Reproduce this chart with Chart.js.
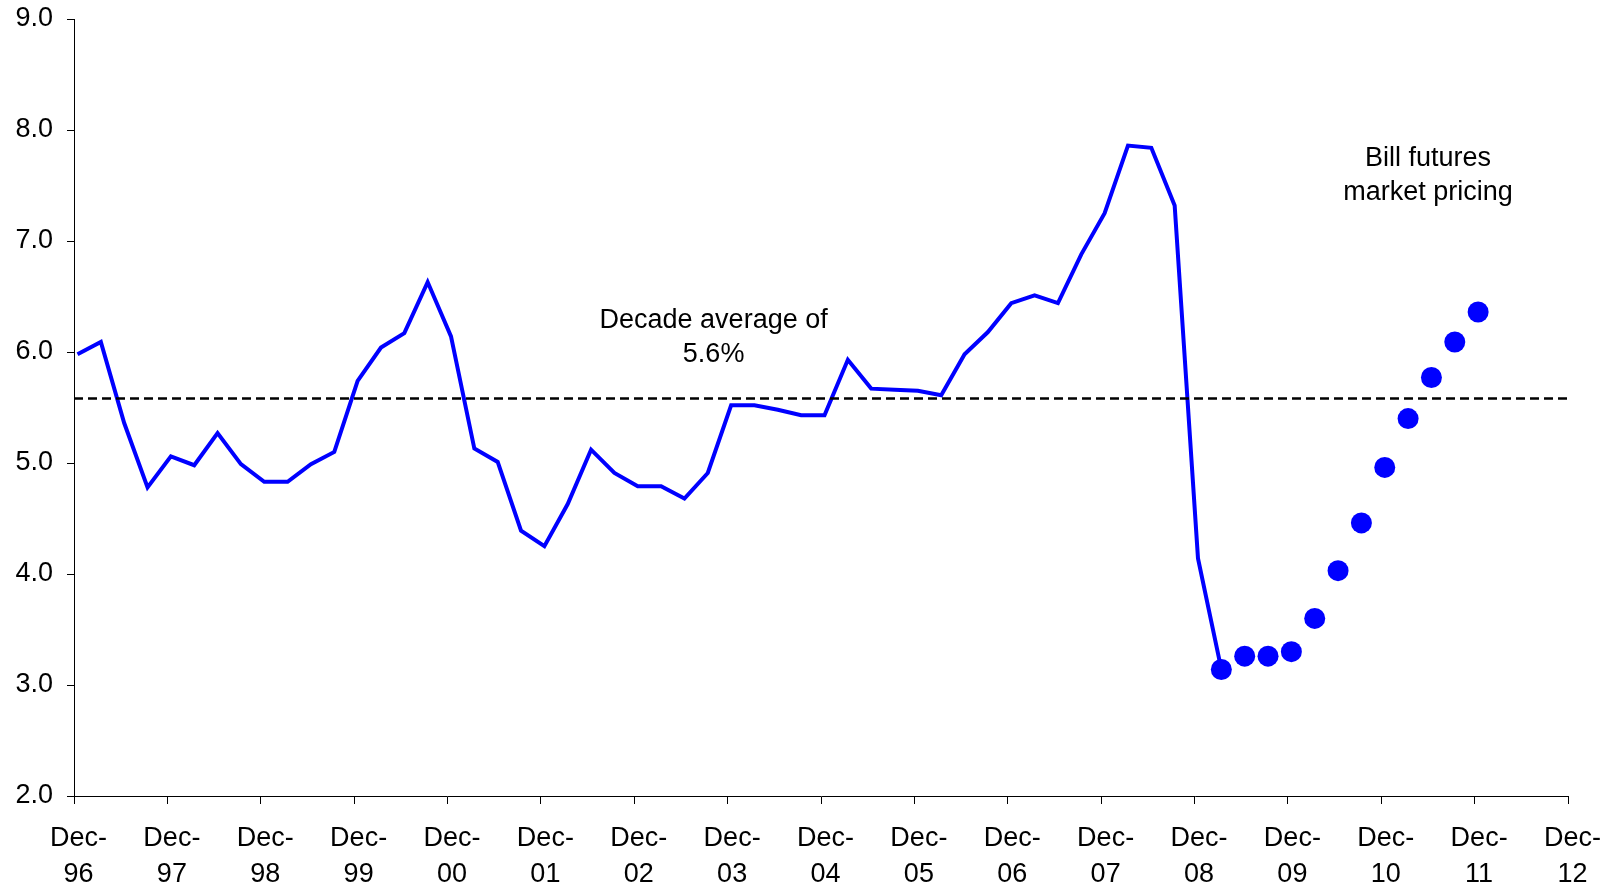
<!DOCTYPE html>
<html>
<head>
<meta charset="utf-8">
<script src="https://cdn.jsdelivr.net/npm/chart.js@4"></script>
<style>
  html, body { margin: 0; padding: 0; background: #fff; }
  #wrap { width: 1608px; height: 887px; }
</style>
</head>
<body>
<div id="wrap"><canvas id="rateChart"></canvas></div>
<script>
// x is measured in months from Dec-96; observations sit mid-month
const yearLabels = ["96", "97", "98", "99", "00", "01", "02", "03", "04",
                    "05", "06", "07", "08", "09", "10", "11", "12"];
const obsOffset = 0.45;

// actual rate, quarterly Dec-96 .. Mar-09
const actualRate = [
  5.98, 6.09, 5.36, 4.78, 5.06, 4.98, 5.27, 4.99, 4.83, 4.83,
  4.99, 5.10, 5.74, 6.04, 6.17, 6.63, 6.14, 5.13, 5.01, 4.39,
  4.25, 4.63, 5.12, 4.91, 4.79, 4.79, 4.68, 4.91, 5.52, 5.52,
  5.48, 5.43, 5.43, 5.93, 5.67, 5.66, 5.65, 5.61, 5.98, 6.18,
  6.44, 6.51, 6.44, 6.88, 7.25, 7.86, 7.84, 7.32, 4.14, 3.14
];

// bill futures pricing, quarterly Mar-09 .. Dec-11
const futuresStartQuarter = 49;
const futuresRate = [3.14, 3.26, 3.26, 3.30, 3.60, 4.03, 4.46, 4.96, 5.40, 5.77, 6.09, 6.36];

const decadeAverage = 5.58;
const yTicks = [2, 3, 4, 5, 6, 7, 8, 9];

const notes = [
  { lines: ["Decade average of", "5.6%"], month: 82.2, y: 6.13 },
  { lines: ["Bill futures", "market pricing"], month: 174.0, y: 7.59 }
];

const noteLabels = {
  id: "noteLabels",
  afterDatasetsDraw(chart) {
    const ctx = chart.ctx;
    const xs = chart.scales.x, ys = chart.scales.y;
    ctx.save();
    ctx.font = "27px 'Liberation Sans', Arial, sans-serif";
    ctx.fillStyle = "#000";
    ctx.textAlign = "center";
    ctx.textBaseline = "middle";
    notes.forEach(n => {
      const cx = xs.getPixelForValue(n.month);
      const cy = ys.getPixelForValue(n.y);
      const lh = 34;
      n.lines.forEach((t, i) => {
        ctx.fillText(t, cx, cy + (i - (n.lines.length - 1) / 2) * lh);
      });
    });
    ctx.restore();
  }
};

const totalMonths = (yearLabels.length - 1) * 12;

new Chart(document.getElementById("rateChart"), {
  type: "line",
  data: {
    datasets: [
      {
        label: "Decade average",
        data: [{ x: 0, y: decadeAverage }, { x: totalMonths, y: decadeAverage }],
        borderColor: "#000",
        borderWidth: 2.5,
        borderDash: [9, 5],
        pointRadius: 0,
        tension: 0
      },
      {
        label: "Rate",
        data: actualRate.map((v, i) => ({ x: i * 3 + obsOffset, y: v })),
        borderColor: "#0000FF",
        borderWidth: 4,
        pointRadius: 0,
        tension: 0
      },
      {
        label: "Bill futures",
        data: futuresRate.map((v, i) => ({ x: (futuresStartQuarter + i) * 3 + obsOffset, y: v })),
        showLine: false,
        pointRadius: 10.5,
        pointBackgroundColor: "#0000FF",
        pointBorderWidth: 0
      }
    ]
  },
  options: {
    responsive: true,
    maintainAspectRatio: false,
    animation: false,
    layout: { padding: { top: 19, right: 40, left: 0, bottom: 0 } },
    plugins: {
      legend: { display: false },
      tooltip: { enabled: false }
    },
    scales: {
      x: {
        type: "linear",
        min: 0,
        max: totalMonths,
        afterBuildTicks: s => { s.ticks = yearLabels.map((_, i) => ({ value: i * 12 })); },
        grid: { drawOnChartArea: false, drawTicks: true, tickLength: 8, color: "#000" },
        border: { color: "#000", width: 1 },
        ticks: {
          autoSkip: false,
          maxRotation: 0,
          padding: 17,
          labelOffset: 4.5,
          color: "#000",
          font: { family: "'Liberation Sans', Arial, sans-serif", size: 27, lineHeight: 1.33 },
          callback: v => ["Dec-", yearLabels[Math.round(v / 12)]]
        },
        afterFit: s => { s.height = 91; s.paddingLeft = 0; s.paddingRight = 0; }
      },
      y: {
        min: 2,
        max: 9,
        afterBuildTicks: s => { s.ticks = yTicks.map(v => ({ value: v })); },
        grid: { drawOnChartArea: false, drawTicks: true, tickLength: 7, color: "#000" },
        border: { color: "#000", width: 1 },
        ticks: {
          padding: 14,
          color: "#000",
          font: { family: "'Liberation Sans', Arial, sans-serif", size: 27 },
          callback: v => v.toFixed(1)
        },
        afterFit: s => { s.width = 74; s.paddingTop = 0; s.paddingBottom = 0; }
      }
    }
  },
  plugins: [noteLabels]
});
</script>
</body>
</html>
